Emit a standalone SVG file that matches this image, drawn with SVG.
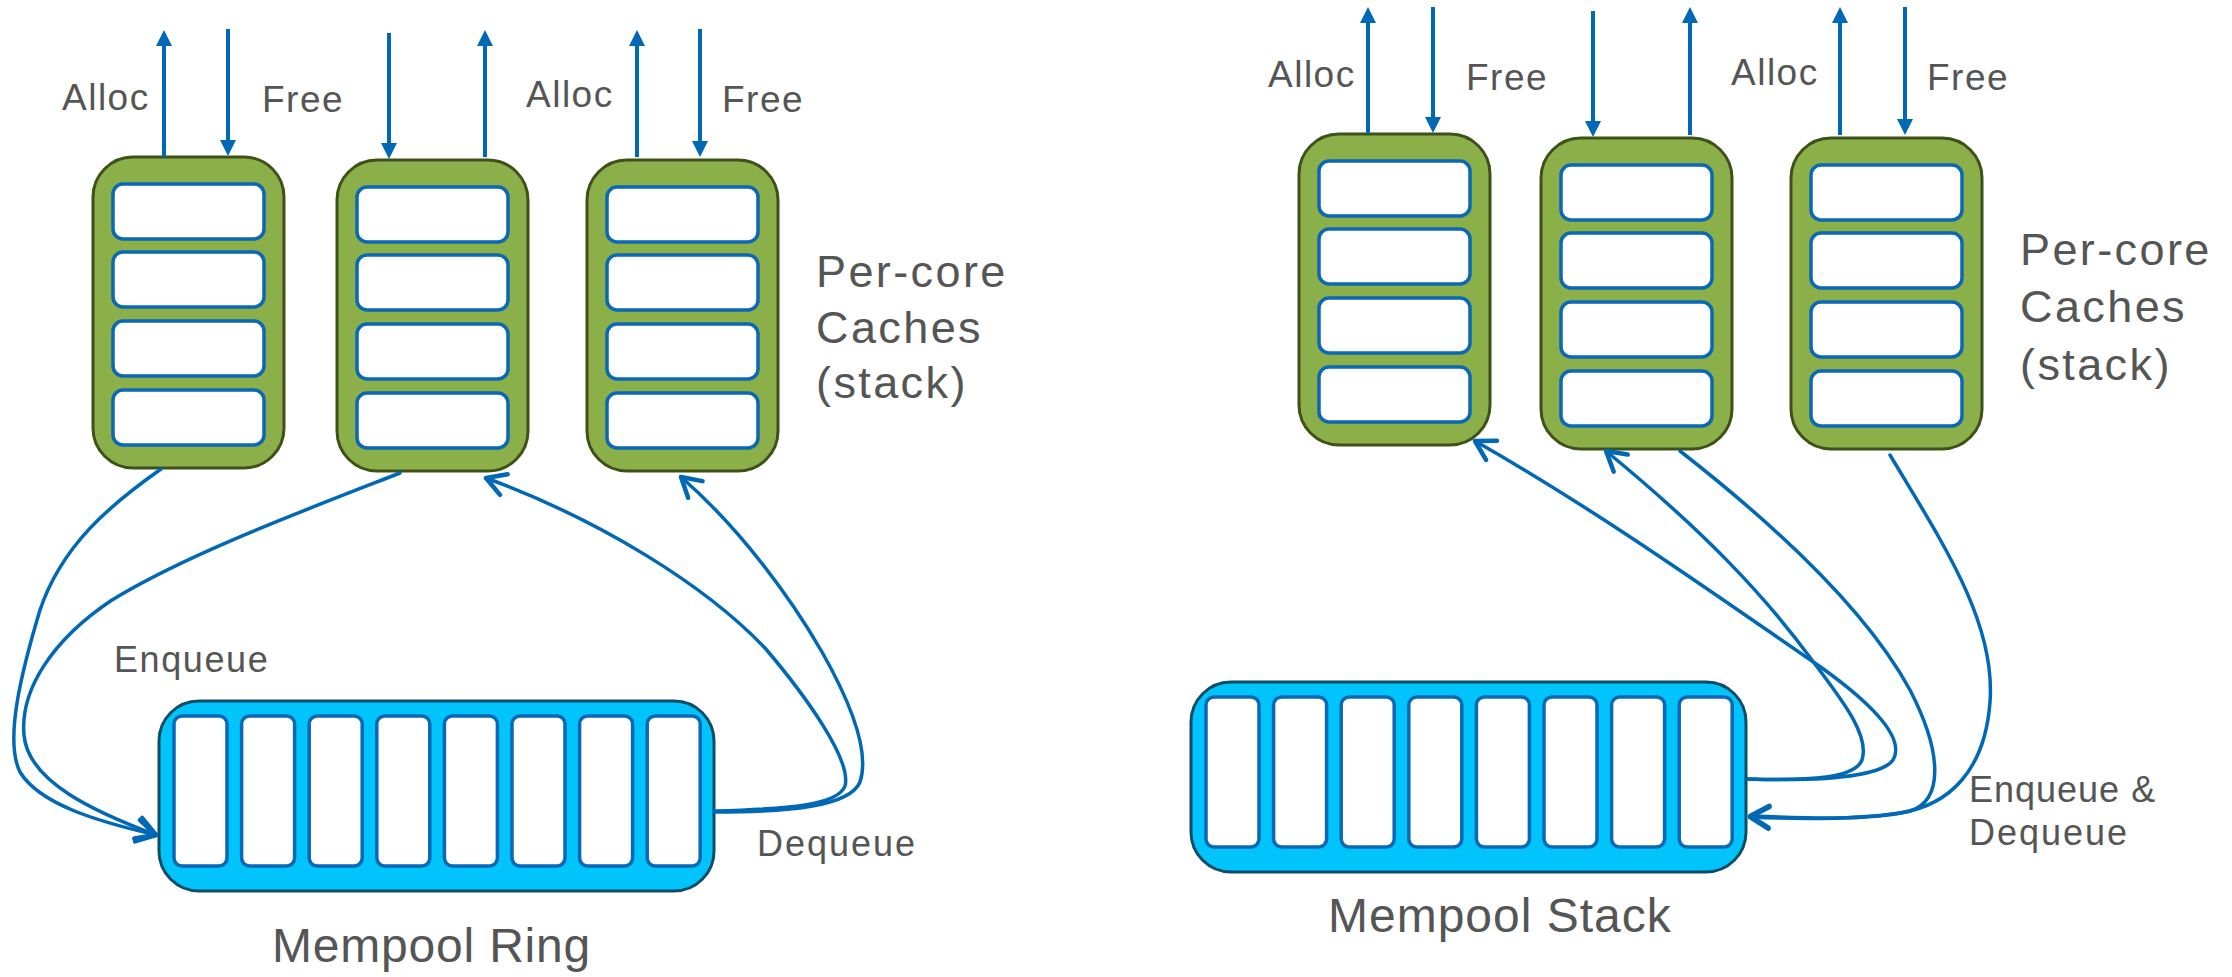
<svg xmlns="http://www.w3.org/2000/svg" width="2232" height="977" viewBox="0 0 2232 977">
<style>
.bg{fill:#ffffff}
.core{fill:#8bb049;stroke:#3f5119;stroke-width:3}
.cell{fill:#ffffff;stroke:#0a68b5;stroke-width:3.5}
.pool{fill:#00c4fb;stroke:#0c4d66;stroke-width:3}
.slot{fill:#ffffff;stroke:#0a68b5;stroke-width:3.5}
.io{stroke:#0068b5;stroke-width:4;fill:none}
.flow{stroke:#0068b5;stroke-width:3.5;fill:none;stroke-linecap:round}
text{font-family:"Liberation Sans",Arial,sans-serif;fill:#555555}
.lbl{font-size:37px;letter-spacing:1.5px}
.big{font-size:45px;letter-spacing:2.4px}
.mid{font-size:36px;letter-spacing:1.6px}
.title{font-size:48px;letter-spacing:0.8px}
</style>
<defs>
<marker id="tri" viewBox="0 -8 16 16" refX="6" refY="0" markerWidth="16" markerHeight="16" markerUnits="userSpaceOnUse" orient="auto">
<path d="M0,-8 L16,0 L0,8 Z" fill="#0068b5"/>
</marker>
<marker id="open" viewBox="-24 -14 28 28" refX="0" refY="0" markerWidth="28" markerHeight="28" markerUnits="userSpaceOnUse" orient="auto">
<path d="M-19,-11 L0,0 L-19,11" fill="none" stroke="#0068b5" stroke-width="4.5" stroke-linecap="round" stroke-linejoin="round"/>
</marker>
<g id="cache">
<rect class="core" x="0" y="0" width="191" height="311" rx="40"/>
<rect class="cell" x="20" y="27" width="151" height="55" rx="10"/>
<rect class="cell" x="20" y="95" width="151" height="55" rx="10"/>
<rect class="cell" x="20" y="164" width="151" height="55" rx="10"/>
<rect class="cell" x="20" y="233" width="151" height="55" rx="10"/>
</g>
<g id="pool">
<rect class="pool" x="0" y="0" width="555" height="190" rx="40"/>
<rect class="slot" x="15" y="15" width="53" height="150" rx="8"/>
<rect class="slot" x="82.6" y="15" width="53" height="150" rx="8"/>
<rect class="slot" x="150.2" y="15" width="53" height="150" rx="8"/>
<rect class="slot" x="217.8" y="15" width="53" height="150" rx="8"/>
<rect class="slot" x="285.4" y="15" width="53" height="150" rx="8"/>
<rect class="slot" x="353" y="15" width="53" height="150" rx="8"/>
<rect class="slot" x="420.6" y="15" width="53" height="150" rx="8"/>
<rect class="slot" x="488.2" y="15" width="53" height="150" rx="8"/>
</g>
</defs>
<rect class="bg" x="0" y="0" width="2232" height="977"/>

<!-- Left panel: Mempool Ring -->
<g id="left-cache-1"><use href="#cache" x="93" y="157"/></g>
<g id="left-cache-2"><use href="#cache" x="337" y="160"/></g>
<g id="left-cache-3"><use href="#cache" x="587" y="160"/></g>
<g id="mempool-ring">
<use href="#pool" x="159" y="701"/>
<text class="title" x="272" y="962">Mempool Ring</text>
</g>
<g id="left-labels">
<text class="lbl" x="62" y="110">Alloc</text>
<text class="lbl" x="262" y="112">Free</text>
<text class="lbl" x="526" y="107">Alloc</text>
<text class="lbl" x="722" y="112">Free</text>
<text class="big" x="816" y="287">Per-core</text>
<text class="big" x="816" y="343">Caches</text>
<text class="big" x="816" y="398">(stack)</text>
<text class="mid" x="114" y="672">Enqueue</text>
<text class="mid" x="757" y="856" style="letter-spacing:2px">Dequeue</text>
</g>

<!-- Right panel: Mempool Stack -->
<g id="right-cache-1"><use href="#cache" x="1299" y="134"/></g>
<g id="right-cache-2"><use href="#cache" x="1541" y="138"/></g>
<g id="right-cache-3"><use href="#cache" x="1791" y="138"/></g>
<g id="mempool-stack">
<use href="#pool" x="1191" y="682"/>
<text class="title" x="1328" y="932" style="letter-spacing:1px">Mempool Stack</text>
</g>
<g id="right-labels">
<text class="lbl" x="1268" y="87">Alloc</text>
<text class="lbl" x="1466" y="90">Free</text>
<text class="lbl" x="1731" y="85">Alloc</text>
<text class="lbl" x="1927" y="90">Free</text>
<text class="big" x="2020" y="265">Per-core</text>
<text class="big" x="2020" y="322">Caches</text>
<text class="big" x="2020" y="380">(stack)</text>
<text class="mid" x="1969" y="802" style="letter-spacing:1px">Enqueue &amp;</text>
<text class="mid" x="1969" y="845" style="letter-spacing:2px">Dequeue</text>
</g>

<g id="connectors">
<!-- Alloc / Free arrows, left -->
<path class="io" d="M164,157 V40" marker-end="url(#tri)"/>
<path class="io" d="M228,29 V146" marker-end="url(#tri)"/>
<path class="io" d="M389,33 V149" marker-end="url(#tri)"/>
<path class="io" d="M485,157 V40" marker-end="url(#tri)"/>
<path class="io" d="M637,157 V40" marker-end="url(#tri)"/>
<path class="io" d="M700,29 V147" marker-end="url(#tri)"/>
<!-- Alloc / Free arrows, right -->
<path class="io" d="M1368,134 V17" marker-end="url(#tri)"/>
<path class="io" d="M1433,7 V123" marker-end="url(#tri)"/>
<path class="io" d="M1593,11 V127" marker-end="url(#tri)"/>
<path class="io" d="M1690,135 V17" marker-end="url(#tri)"/>
<path class="io" d="M1840,135 V17" marker-end="url(#tri)"/>
<path class="io" d="M1905,7 V125" marker-end="url(#tri)"/>

<!-- Ring: enqueue -->
<path class="flow" d="M161,469 C110,505 62,545 40,610 C22,670 4,740 20,772 C40,805 100,822 156,835" marker-end="url(#open)"/>
<path class="flow" d="M400,473 C300,512 185,555 112,600 C52,640 20,690 24,735 C28,782 95,812 156,835" marker-end="url(#open)"/>
<!-- Ring: dequeue -->
<path class="flow" d="M714,811 C790,809 838,805 845,786 C852,760 805,695 765,648 C705,585 600,520 486,478" marker-end="url(#open)"/>
<path class="flow" d="M714,812 C792,812 850,806 860,782 C870,752 852,705 822,652 C792,600 742,530 681,477" marker-end="url(#open)"/>

<!-- Stack: enqueue (to stack) -->
<path class="flow" d="M1680,451 C1762,515 1862,602 1910,690 C1942,752 1944,800 1910,811 C1870,821 1800,818 1750,816" marker-end="url(#open)"/>
<path class="flow" d="M1890,455 C1942,542 1996,622 1990,702 C1985,770 1950,805 1900,813 C1852,820 1792,819 1750,817" marker-end="url(#open)"/>
<!-- Stack: dequeue (from stack) -->
<path class="flow" d="M1748,779 C1812,781 1880,778 1893,760 C1906,738 1872,704 1822,668 C1720,598 1600,512 1475,441" marker-end="url(#open)"/>
<path class="flow" d="M1748,779 C1812,781 1855,778 1862,760 C1870,735 1842,700 1812,660 C1762,592 1702,530 1606,451" marker-end="url(#open)"/>
</g>
</svg>
